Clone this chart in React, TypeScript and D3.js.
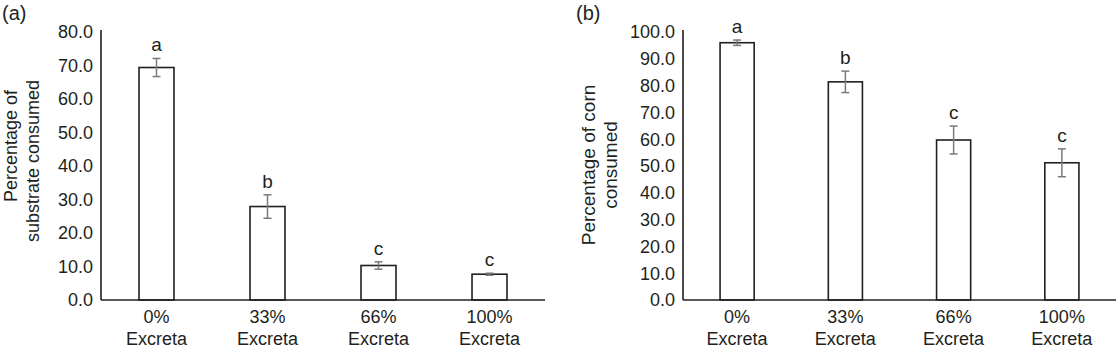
import * as d3 from "d3";

const categories = ["0%|Excreta", "33%|Excreta", "66%|Excreta", "100%|Excreta"];

const substrateMeans = [69.4, 27.9, 10.3, 7.7];
const substrateErrors = [2.7, 3.5, 1.1, 0.3];
const substrateLetters = ["a", "b", "c", "c"];
const substrateTicks = [0, 10, 20, 30, 40, 50, 60, 70, 80];

const cornMeans = [96.0, 81.4, 59.7, 51.2];
const cornErrors = [1.0, 4.0, 5.2, 5.2];
const cornLetters = ["a", "b", "c", "c"];
const cornTicks = [0, 10, 20, 30, 40, 50, 60, 70, 80, 90, 100];

const FONT = "'Liberation Sans', Arial, Helvetica, sans-serif";
const INK = "#231f20";

type PanelProps = {
  tag: string;
  left: number;
  right: number;
  means: number[];
  errors: number[];
  letters: string[];
  ticks: number[];
  yLabel: string[];
  labelX: number[];
  labelY: number[];
  labelSize: number;
  tagX: number;
};

const Panel = (p: PanelProps) => {
  const top = 32;
  const bottom = 300;
  const x = d3.scaleBand().domain(categories).range([p.left, p.right])
    .paddingInner(0.685).paddingOuter(0.3425);
  const y = d3.scaleLinear().domain([0, p.ticks[p.ticks.length - 1]]).range([bottom, top]);

  return (
    <g>
      <text x={p.tagX} y={20} fontSize={20} fill={INK}>{p.tag}</text>

      {p.yLabel.map((line, i) => (
        <text key={i} transform={`translate(${p.labelX[i]},${p.labelY[i]}) rotate(-90)`}
          textAnchor="middle" fontSize={p.labelSize} fill={INK}>{line}</text>
      ))}

      {p.ticks.map((t) => (
        <text key={t} x={p.left - 8} y={y(t)} dy="0.35em" textAnchor="end"
          fontSize={18} fill={INK}>{t.toFixed(1)}</text>
      ))}

      {categories.map((c, i) => {
        const bx = x(c)!;
        const cx = bx + x.bandwidth() / 2;
        const hi = y(p.means[i] + p.errors[i]);
        const lo = y(p.means[i] - p.errors[i]);
        return (
          <g key={c}>
            <rect x={bx} y={y(p.means[i])} width={x.bandwidth()} height={bottom - y(p.means[i])}
              fill="#fff" stroke={INK} strokeWidth={1.6} />
            <g stroke="#7a7a7a" strokeWidth={1.5}>
              <line x1={cx} x2={cx} y1={hi} y2={lo} />
              <line x1={cx - 4} x2={cx + 4} y1={hi} y2={hi} />
              <line x1={cx - 4} x2={cx + 4} y1={lo} y2={lo} />
            </g>
            <text x={cx} y={hi - 7} textAnchor="middle" fontSize={19} fill={INK}>{p.letters[i]}</text>
            {c.split("|").map((part, j) => (
              <text key={j} x={cx} y={323 + j * 22} textAnchor="middle" fontSize={18} fill={INK}>{part}</text>
            ))}
          </g>
        );
      })}

      <line x1={p.left} x2={p.left} y1={30} y2={bottom} stroke={INK} strokeWidth={1.6} />
      <line x1={p.left} x2={p.right} y1={bottom} y2={bottom} stroke={INK} strokeWidth={1.6} />
    </g>
  );
};

export default function App() {
  return (
    <svg width={1116} height={350} style={{ position: "absolute", left: 0, top: 0, fontFamily: FONT }}>
      <rect width={1116} height={350} fill="#fff" />
      <Panel tag="(a)" tagX={2} left={101} right={545} means={substrateMeans} errors={substrateErrors}
        letters={substrateLetters} ticks={substrateTicks}
        yLabel={["Percentage of", "substrate consumed"]} labelX={[17, 39]} labelY={[146, 161]}
        labelSize={18} />
      <Panel tag="(b)" tagX={576} left={683} right={1116} means={cornMeans} errors={cornErrors}
        letters={cornLetters} ticks={cornTicks}
        yLabel={["Percentage of corn", "consumed"]} labelX={[595, 617]} labelY={[165, 165]}
        labelSize={19} />
    </svg>
  );
}
